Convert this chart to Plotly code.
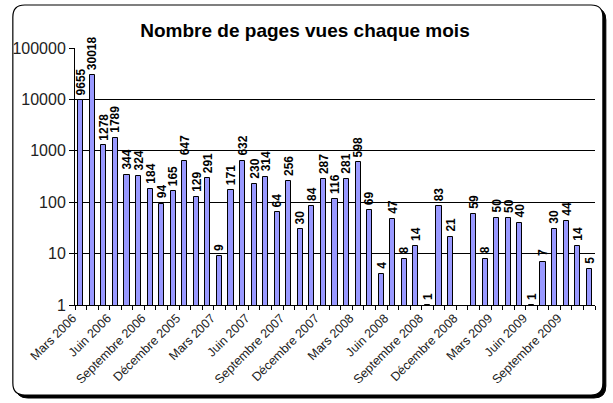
import math
import plotly.graph_objects as go

months = ["Mars 2006", "Avril 2006", "Mai 2006", "Juin 2006", "Juillet 2006", "Août 2006",
          "Septembre 2006", "Octobre 2006", "Novembre 2006", "Décembre 2005", "Janvier 2007", "Février 2007",
          "Mars 2007", "Avril 2007", "Mai 2007", "Juin 2007", "Juillet 2007", "Août 2007",
          "Septembre 2007", "Octobre 2007", "Novembre 2007", "Décembre 2007", "Janvier 2008", "Février 2008",
          "Mars 2008", "Avril 2008", "Mai 2008", "Juin 2008", "Juillet 2008", "Août 2008",
          "Septembre 2008", "Octobre 2008", "Novembre 2008", "Décembre 2008", "Janvier 2009", "Février 2009",
          "Mars 2009", "Avril 2009", "Mai 2009", "Juin 2009", "Juillet 2009", "Août 2009",
          "Septembre 2009", "Octobre 2009", "Novembre 2009"]
views = [9655, 30018, 1278, 1789, 344, 324, 184, 94, 165, 647, 129, 291,
         9, 171, 632, 230, 314, 64, 256, 30, 84, 287, 116, 281,
         598, 69, 4, 47, 8, 14, 1, 83, 21, None, 59, 8,
         50, 50, 40, 1, 7, 30, 44, 14, 5]
title_text = "Nombre de pages vues chaque mois"
ytick_vals = [1, 10, 100, 1000, 10000, 100000]
ytick_text = ["1", "10", "100", "1000", "10000", "100000"]

W, H = 613, 403
L, R, T, B = 68, 595, 48, 305
FONT = "Arial, Liberation Sans, sans-serif"

xs = list(range(len(months)))
tick_idx = [i for i in xs if i % 3 == 0]

def px(x):
    return (x - L) / (R - L)

def py(y):
    return (B - y) / (B - T)

def rrect(x0, y0, x1, y1, r):
    return (f"M {px(x0 + r)} {py(y0)} L {px(x1 - r)} {py(y0)} "
            f"Q {px(x1)} {py(y0)} {px(x1)} {py(y0 + r)} "
            f"L {px(x1)} {py(y1 - r)} Q {px(x1)} {py(y1)} {px(x1 - r)} {py(y1)} "
            f"L {px(x0 + r)} {py(y1)} Q {px(x0)} {py(y1)} {px(x0)} {py(y1 - r)} "
            f"L {px(x0)} {py(y0 + r)} Q {px(x0)} {py(y0)} {px(x0 + r)} {py(y0)} Z")

fig = go.Figure()
fig.add_trace(go.Bar(
    x=xs, y=views, width=0.45,
    marker=dict(color="#9999FF", line=dict(color="#000000", width=1)),
    hoverinfo="x+y",
))

annotations = []
for x, v in zip(xs, views):
    if v is None:
        continue
    annotations.append(dict(
        x=x, y=math.log10(v), xref="x", yref="y",
        text=f"<b>{v}</b>", showarrow=False, textangle=-90,
        xanchor="center", yanchor="bottom", yshift=3,
        font=dict(family=FONT, size=12, color="#000"),
    ))

fig.update_layout(
    width=W, height=H,
    margin=dict(l=L, r=W - R, t=T, b=H - B),
    paper_bgcolor="white", plot_bgcolor="rgba(0,0,0,0)",
    showlegend=False,
    font=dict(family=FONT, color="#000"),
    title=dict(text=f"<b>{title_text}</b>", x=305 / W, xanchor="center",
               y=1 - 30 / H, yanchor="middle", yref="container",
               font=dict(size=19, color="#000")),
    bargap=0,
    annotations=annotations,
    shapes=[
        dict(type="path", path=rrect(8, 8, 606, 398, 12), xref="paper", yref="paper",
             fillcolor="#000", line=dict(color="#000", width=1), layer="below"),
        dict(type="path", path=rrect(5, 5, 603, 395, 12), xref="paper", yref="paper",
             fillcolor="#fff", line=dict(color="#000", width=1.2), layer="below"),
    ],
)

fig.update_xaxes(
    range=[-0.5, len(months) - 0.5],
    tickmode="array", tickvals=tick_idx, ticktext=[months[i] for i in tick_idx],
    tickangle=-45, ticks="", ticklen=0, ticklabelshift=-8,
    tickfont=dict(size=12.5, color="#222"),
    showline=True, linecolor="#000", linewidth=1,
    showgrid=False, zeroline=False,
    minor=dict(tick0=-0.5, dtick=1, ticks="outside", ticklen=4, tickcolor="#000", showgrid=False),
)
fig.update_yaxes(
    type="log", range=[0, 5],
    tickmode="array", tickvals=ytick_vals, ticktext=ytick_text,
    ticks="outside", ticklen=5, tickcolor="#000",
    tickfont=dict(size=16, color="#222"),
    showline=True, linecolor="#000", linewidth=1,
    showgrid=True, gridcolor="#000", gridwidth=1, zeroline=False,
)

fig.write_html("out.html")
